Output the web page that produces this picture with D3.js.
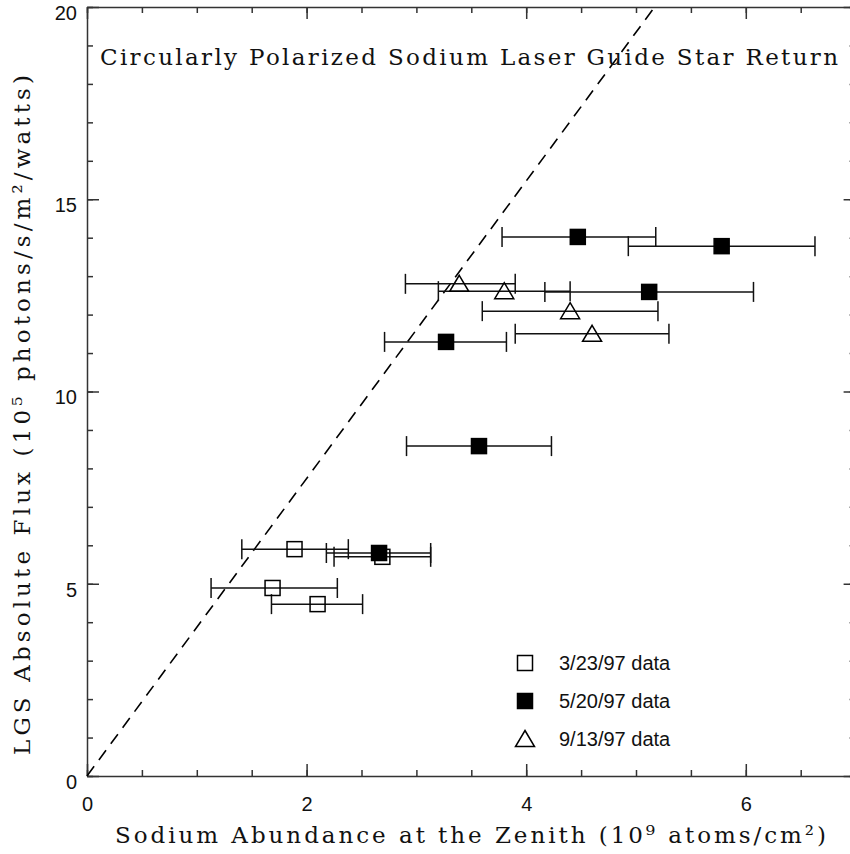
<!DOCTYPE html>
<html>
<head>
<meta charset="utf-8">
<script src="https://cdn.jsdelivr.net/npm/d3@7"></script>
<style>
  body { margin: 0; background: #fff; }
  svg { display: block; }
  .tick text { font-family: "Liberation Sans", Arial, sans-serif; font-size: 20px; fill: #111; }
  .serif { font-family: "DejaVu Serif", serif; font-size: 23px; fill: #111; }
</style>
</head>
<body>
<script>
  const width = 850, height = 854;

  // data (x: 10^9 atoms/cm2, y: 10^5 photons/s/m2/watts)
  const seriesNames = ["3/23/97 data", "5/20/97 data", "9/13/97 data"];
  const seriesShapes = ["open", "filled", "triangle"];

  const marX = [1.89, 1.69, 2.10, 2.69];
  const marY = [5.90, 4.89, 4.47, 5.70];
  const marLo = [1.41, 1.13, 1.68, 2.25];
  const marHi = [2.38, 2.28, 2.51, 3.13];

  const mayX = [2.66, 3.27, 3.57, 4.47, 5.78, 5.12];
  const mayY = [5.80, 11.29, 8.58, 14.02, 13.78, 12.59];
  const mayLo = [2.18, 2.71, 2.91, 3.78, 4.93, 4.17];
  const mayHi = [3.13, 3.82, 4.23, 5.18, 6.63, 6.07];

  const sepX = [3.39, 3.80, 4.40, 4.60];
  const sepY = [12.80, 12.61, 12.09, 11.50];
  const sepLo = [2.90, 3.20, 3.60, 3.90];
  const sepHi = [3.90, 4.40, 5.20, 5.30];

  // dashed reference line through the origin
  const lineX = [0, 5.17];
  const lineY = [0, 20];

  const xMajor = [0, 2, 4, 6];
  const yMajor = [0, 5, 10, 15, 20];

  const svg = d3.select("body").append("svg")
      .attr("width", width)
      .attr("height", height);

  const x = d3.scaleLinear().domain([0, 7]).range([87, 87 + 7 * 109.8]);
  const y = d3.scaleLinear().domain([0, 20]).range([776, 7]);

  function pts(xs, ys, lo, hi, s) {
    return xs.map((v, i) => ({x: v, y: ys[i], lo: lo[i], hi: hi[i], s: s}));
  }
  const points = [].concat(
    pts(marX, marY, marLo, marHi, 0),
    pts(mayX, mayY, mayLo, mayHi, 1),
    pts(sepX, sepY, sepLo, sepHi, 2)
  );

  // axes, ticks point inward on all four sides
  function styleAxis(g) {
    g.selectAll("path, line").attr("stroke", "#333").attr("stroke-width", 1.5);
  }
  const xMinor = d3.range(0, 7.01, 0.5);
  const yMinor = d3.range(0, 20.01, 1);

  svg.append("g").attr("transform", `translate(0,${y(0)})`)
      .call(d3.axisBottom(x).tickValues(xMinor).tickSize(-6).tickSizeOuter(0).tickFormat(""))
      .call(styleAxis);
  svg.append("g").attr("transform", `translate(0,${y(0)})`)
      .call(d3.axisBottom(x).tickValues(xMajor).tickSize(-12).tickSizeOuter(0).tickPadding(21).tickFormat(d3.format("d")))
      .call(styleAxis)
      .call(g => g.select(".domain").remove());

  svg.append("g").attr("transform", `translate(0,${y(20)})`)
      .call(d3.axisTop(x).tickValues(xMinor).tickSize(-6).tickSizeOuter(0).tickFormat(""))
      .call(styleAxis);
  svg.append("g").attr("transform", `translate(0,${y(20)})`)
      .call(d3.axisTop(x).tickValues(xMajor).tickSize(-12).tickSizeOuter(0).tickFormat(""))
      .call(styleAxis)
      .call(g => g.select(".domain").remove());

  svg.append("g").attr("transform", `translate(${x(0)},0)`)
      .call(d3.axisLeft(y).tickValues(yMinor).tickSize(-6).tickSizeOuter(0).tickFormat(""))
      .call(styleAxis);
  svg.append("g").attr("transform", `translate(${x(0)},0)`)
      .call(d3.axisLeft(y).tickValues(yMajor).tickSize(-12).tickSizeOuter(0).tickPadding(10).tickFormat(d3.format("d")))
      .call(styleAxis)
      .call(g => g.select(".domain").remove())
      .call(g => g.selectAll("text").attr("dy", "0.62em"));

  svg.append("g").attr("transform", `translate(${x(7)},0)`)
      .call(d3.axisRight(y).tickValues(yMinor).tickSize(-6).tickSizeOuter(0).tickFormat(""))
      .call(styleAxis);
  svg.append("g").attr("transform", `translate(${x(7)},0)`)
      .call(d3.axisRight(y).tickValues(yMajor).tickSize(-12).tickSizeOuter(0).tickFormat(""))
      .call(styleAxis)
      .call(g => g.select(".domain").remove());

  // dashed line
  svg.append("path")
      .datum(lineX.map((v, i) => [v, lineY[i]]))
      .attr("d", d3.line().x(d => x(d[0])).y(d => y(d[1])))
      .attr("fill", "none")
      .attr("stroke", "#000")
      .attr("stroke-width", 1.6)
      .attr("stroke-dasharray", "12,8");

  // error bars
  const bars = svg.append("g").attr("stroke", "#111").attr("stroke-width", 1.5);
  bars.selectAll("line.bar")
    .data(points)
    .join("line")
      .attr("class", "bar")
      .attr("x1", d => x(d.lo)).attr("x2", d => x(d.hi))
      .attr("y1", d => y(d.y)).attr("y2", d => y(d.y));
  bars.selectAll("line.capl")
    .data(points)
    .join("line")
      .attr("class", "capl")
      .attr("x1", d => x(d.lo)).attr("x2", d => x(d.lo))
      .attr("y1", d => y(d.y) - 10).attr("y2", d => y(d.y) + 10);
  bars.selectAll("line.capr")
    .data(points)
    .join("line")
      .attr("class", "capr")
      .attr("x1", d => x(d.hi)).attr("x2", d => x(d.hi))
      .attr("y1", d => y(d.y) - 10).attr("y2", d => y(d.y) + 10);

  function marker(sel, shape) {
    if (shape === "triangle") {
      sel.append("path")
        .attr("d", "M0,-8.5L9.5,7.5L-9.5,7.5Z")
        .attr("fill", "none").attr("stroke", "#000").attr("stroke-width", 1.5);
    } else {
      sel.append("rect")
        .attr("x", -7.5).attr("y", -7.5).attr("width", 15).attr("height", 15)
        .attr("fill", shape === "filled" ? "#000" : "none")
        .attr("stroke", "#000").attr("stroke-width", 1.5);
    }
  }

  svg.append("g").selectAll("g")
    .data(points)
    .join("g")
      .attr("transform", d => `translate(${x(d.x)},${y(d.y)})`)
      .each(function(d) { marker(d3.select(this), seriesShapes[d.s]); });

  // legend
  const legend = svg.append("g").selectAll("g")
    .data(seriesNames)
    .join("g")
      .attr("transform", (d, i) => `translate(525,${663 + i * 38})`);
  legend.each(function(d, i) { marker(d3.select(this), seriesShapes[i]); });
  legend.append("text")
      .attr("x", 34).attr("y", 7)
      .style("font-family", "'Liberation Sans', Arial, sans-serif")
      .style("font-size", "20px")
      .attr("fill", "#111")
      .text(d => d);

  // titles
  svg.append("text").attr("class", "serif")
      .attr("x", 100).attr("y", 65)
      .attr("textLength", 738).attr("lengthAdjust", "spacing")
      .text("Circularly Polarized Sodium Laser Guide Star Return");

  svg.append("text").attr("class", "serif")
      .attr("x", 115).attr("y", 843)
      .attr("textLength", 711).attr("lengthAdjust", "spacing")
      .text("Sodium Abundance at the Zenith (10\u2079 atoms/cm\u00b2)");

  svg.append("text").attr("class", "serif")
      .attr("transform", "translate(30,755) rotate(-90)")
      .attr("textLength", 680).attr("lengthAdjust", "spacing")
      .text("LGS Absolute Flux (10\u2075 photons/s/m\u00b2/watts)");
</script>
</body>
</html>
